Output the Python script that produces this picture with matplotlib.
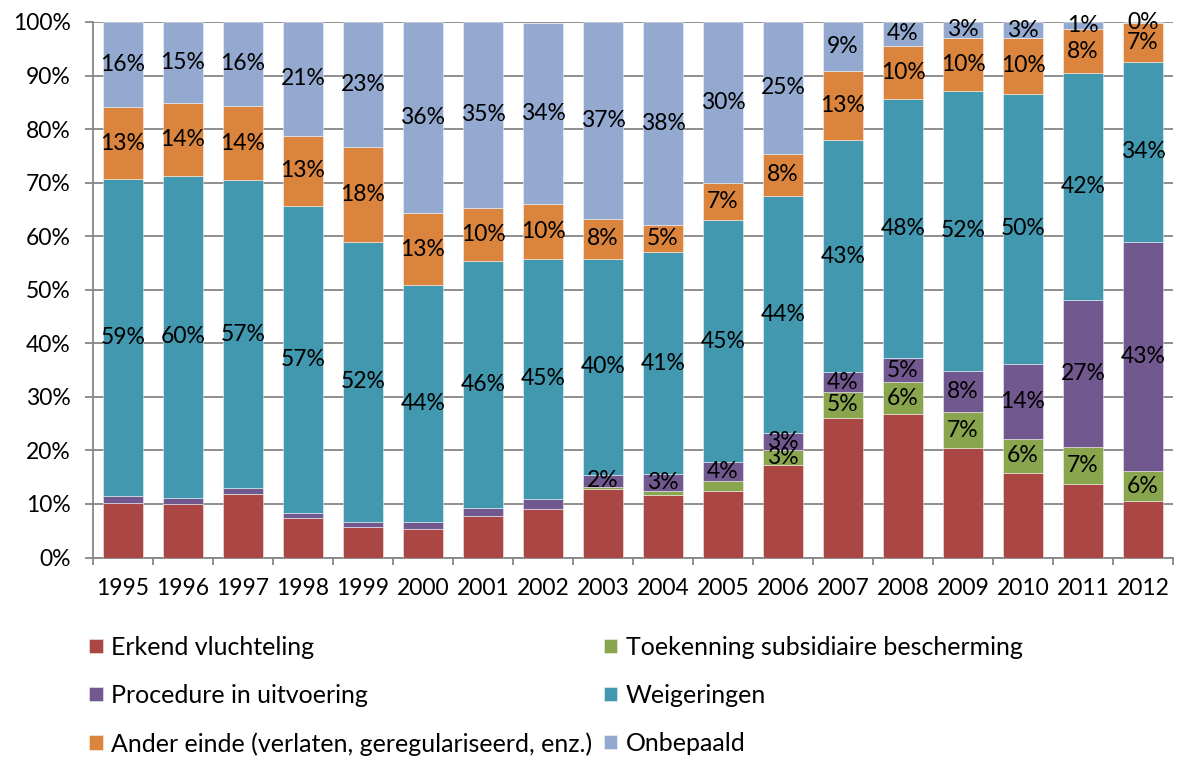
import matplotlib
matplotlib.use("Agg")
import matplotlib.pyplot as plt
import numpy as np

plt.rcParams["font.family"] = ["Lato", "DejaVu Sans"]

years = [1995, 1996, 1997, 1998, 1999, 2000, 2001, 2002, 2003,
         2004, 2005, 2006, 2007, 2008, 2009, 2010, 2011, 2012]

# shares per outcome, in percent of all decisions for that year
erkend = [10.1, 10.0, 11.9, 7.3, 5.7, 5.4, 7.8, 9.1, 12.8,
          11.7, 12.5, 17.2, 26.1, 26.8, 20.5, 15.8, 13.8, 10.5]
subsidiair = [0.0, 0.0, 0.0, 0.0, 0.0, 0.0, 0.0, 0.0, 0.3,
              0.7, 1.7, 2.8, 4.8, 5.9, 6.6, 6.4, 6.9, 5.6]
procedure = [1.3, 1.1, 1.1, 1.1, 0.9, 1.2, 1.5, 1.9, 2.4,
             3.2, 3.6, 3.3, 3.7, 4.6, 7.8, 14.0, 27.3, 42.9]
weigering = [59.3, 60.2, 57.4, 57.2, 52.4, 44.3, 46.0, 44.7, 40.2,
             41.4, 45.2, 44.2, 43.4, 48.4, 52.3, 50.4, 42.4, 33.6]
ander = [13.4, 13.6, 14.0, 13.2, 17.6, 13.4, 10.0, 10.3, 7.6,
         5.1, 6.9, 7.9, 12.8, 9.9, 9.9, 10.4, 8.2, 7.2]
onbepaald = [15.9, 15.1, 15.6, 21.2, 23.4, 35.7, 34.7, 33.9, 36.7,
             37.9, 30.1, 24.6, 9.2, 4.4, 2.9, 3.0, 1.4, 0.2]

names = ["Erkend vluchteling", "Toekenning subsidiaire bescherming",
         "Procedure in uitvoering", "Weigeringen",
         "Ander einde (verlaten, geregulariseerd, enz.)", "Onbepaald"]
series = [erkend, subsidiair, procedure, weigering, ander, onbepaald]
colors = ["#AA4643", "#89A54E", "#71588F", "#4198AF", "#DB843D", "#93A9CF"]
# first year from which a series carries value labels (None = never)
label_from = [None, 2006, 2003, 1995, 1995, 1995]

fig = plt.figure(figsize=(11.77, 7.58), dpi=100)
ax = fig.add_axes([0.079, 0.2645, 0.9176, 0.7065])

x = np.arange(len(years))
bottom = np.zeros(len(years))
handles = []
for vals, name, col, start in zip(series, names, colors, label_from):
    vals = np.array(vals)
    bars = ax.bar(x, vals, width=0.667, bottom=bottom, color=col,
                  edgecolor=(1, 1, 1, 0.45), linewidth=0.7, zorder=3, label=name)
    handles.append(bars)
    if start is not None:
        for xi, yr, b, v in zip(x, years, bottom, vals):
            if yr >= start:
                ax.text(xi, b + v / 2, f"{v:.0f}%", ha="center", va="center",
                        fontsize=16.5, color="black", zorder=5)
    bottom += vals

ax.set_xlim(-0.5, len(years) - 0.5)
ax.set_ylim(0, 100)
ax.set_yticks(np.arange(0, 101, 10))
ax.set_yticklabels([f"{v}%" for v in range(0, 101, 10)])
ax.set_xticks(x)
ax.set_xticklabels([str(y) for y in years])
ax.set_xticks(np.arange(-0.5, len(years), 1), minor=True)

grey = "#868686"
ax.yaxis.grid(True, color=grey, linewidth=1.3, zorder=0)
ax.set_axisbelow(True)
for s in ["top", "right"]:
    ax.spines[s].set_visible(False)
for s in ["left", "bottom"]:
    ax.spines[s].set_color(grey)
    ax.spines[s].set_linewidth(1.3)

ax.tick_params(axis="y", which="major", length=6, width=1.3, color=grey,
               pad=10, labelsize=16.5)
ax.tick_params(axis="x", which="major", length=0, pad=15, labelsize=16.5)
ax.tick_params(axis="x", which="minor", length=5, width=1.3, color=grey,
               direction="out")

# legend in two columns, filled column by column
order = [0, 2, 4, 1, 3, 5]
fig.legend([handles[i] for i in order], [names[i] for i in order],
           loc="upper left", bbox_to_anchor=(0.076, 0.161), ncol=2,
           frameon=False, fontsize=18, handlelength=0.53, handleheight=0.53,
           handletextpad=0.35, columnspacing=0.45, labelspacing=1.0,
           borderaxespad=0, borderpad=0)

fig.savefig("out.png", dpi=100)
